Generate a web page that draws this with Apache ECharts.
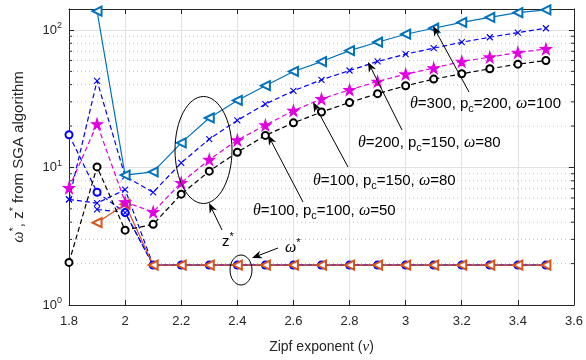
<!DOCTYPE html>
<html><head><meta charset="utf-8">
<script src="https://cdn.jsdelivr.net/npm/echarts@6/dist/echarts.min.js"></script>
<style>html,body{margin:0;padding:0;background:#fff}#c{width:586px;height:360px}</style>
</head><body><div id="c"></div>
<script>
// ---- data ----
const nu = [1.8,1.9,2.0,2.1,2.2,2.3,2.4,2.5,2.6,2.7,2.8,2.9,3.0,3.1,3.2,3.3,3.4,3.5];
const zStar300 = [null,137,8.8,9.3,15.1,22.9,30.7,39.3,49.9,58.9,70.8,81.4,93.1,102.9,113.6,123.6,133.5,140];
const zStar200 = [5.86,42.7,8.6,6.6,10.8,16.1,22.0,28.9,36.1,43.4,50.7,59.0,66.7,73.7,81.4,88.5,95.6,102.9];
const zStar150 = [7.1,20.7,5.6,4.75,7.75,11.4,15.8,20.3,25.9,31.5,36.7,42.2,47.7,52.8,59.0,63.4,68.5,72.8];
const zStar100 = [2.04,10.1,3.5,3.86,6.4,9.4,12.9,17.1,21.1,25.3,29.7,34.4,39.3,43.9,48.0,52.2,56.4,59.9];
const omega300 = [null,3.97,5.4,1.95,1.95,1.95,1.95,1.95,1.95,1.95,1.95,1.95,1.95,1.95,1.95,1.95,1.95,1.95];
const omega200 = [5.86,5.5,6.9,1.95,1.95,1.95,1.95,1.95,1.95,1.95,1.95,1.95,1.95,1.95,1.95,1.95,1.95,1.95];
const omega150 = [null,4.95,4.7,1.95,1.95,1.95,1.95,1.95,1.95,1.95,1.95,1.95,1.95,1.95,1.95,1.95,1.95,1.95];
const omega100 = [17.3,6.6,4.7,1.95,1.95,1.95,1.95,1.95,1.95,1.95,1.95,1.95,1.95,1.95,1.95,1.95,1.95,1.95];
const xTicks = [1.8,2.0,2.2,2.4,2.6,2.8,3.0,3.2,3.4,3.6];
const yMinorTicks = [2,3,4,5,6,7,8,9,20,30,40,50,60,70,80,90];

// ---- chart ----
const C_LB = '#0072BD', C_B = '#0000FF', C_M = '#E000E0', C_K = '#000000', C_O = '#D95319';
const FONT = '"Liberation Sans", Arial, sans-serif';
const crossPath = 'path://M0,0L10,10M0,10L10,0';
const starPath = 'path://M50,0L61,35L98,35L68,57L79,91L50,70L21,91L32,57L2,35L39,35Z';
const pairs = arr => nu.map((x, i) => [x, arr[i]]);

function lineSeries(name, arr, color, dashed, symbol, size, opts) {
  const s = {
    name, type: 'line', data: pairs(arr), connectNulls: false,
    symbol, symbolSize: size, showAllSymbol: true,
    lineStyle: { color, width: 1.2, type: dashed ? [5, 3] : 'solid' },
    itemStyle: { color, borderColor: color, borderWidth: 1.1 },
    z: 5, animation: false
  };
  return Object.assign(s, opts || {});
}

const chart = echarts.init(document.getElementById('c'));
const series = [
  {
    type: 'custom', coordinateSystem: 'cartesian2d', data: [[1.8, 1]], z: 1, silent: true, clip: false,
    renderItem: function (params, api) {
      const children = [];
      yMinorTicks.forEach(v => {
        const a = api.coord([1.8, v]), b = api.coord([3.6, v]);
        children.push({ type: 'line', shape: { x1: a[0], y1: a[1], x2: b[0], y2: b[1] },
          style: { stroke: '#c4c4c4', lineWidth: 1, lineDash: [1, 3] } });
        children.push({ type: 'line', shape: { x1: a[0], y1: a[1], x2: a[0] + 3, y2: a[1] },
          style: { stroke: '#262626', lineWidth: 1 } });
        children.push({ type: 'line', shape: { x1: b[0], y1: b[1], x2: b[0] - 3, y2: b[1] },
          style: { stroke: '#262626', lineWidth: 1 } });
      });
      return { type: 'group', children };
    }
  },
  lineSeries('omega100', omega100, C_B, true, 'emptyCircle', 7),
  lineSeries('omega150', omega150, C_B, true, crossPath, 6),
  lineSeries('omega200', omega200, C_B, true, crossPath, 6),
  lineSeries('omega300', omega300, C_O, false, 'emptyTriangle', 9, { symbolRotate: 90 }),
  lineSeries('z100', zStar100, C_K, true, 'emptyCircle', 7),
  lineSeries('z150', zStar150, C_M, true, starPath, 11),
  lineSeries('z200', zStar200, C_B, true, crossPath, 6),
  lineSeries('z300', zStar300, C_LB, false, 'emptyTriangle', 9, { symbolRotate: 90 })
];

const axisLbl = { color: '#262626', fontFamily: FONT, fontSize: 13 };
const supRich = {
  b: { fontFamily: FONT, fontSize: 13, color: '#262626' },
  s: { fontFamily: FONT, fontSize: 9, color: '#262626', verticalAlign: 'top', padding: [0, 0, 8, 0] }
};

function labelRich() {
  return {
    t: { fontFamily: FONT, fontSize: 15, color: '#000' },
    g: { fontFamily: '"Liberation Serif", serif', fontStyle: 'italic', fontSize: 16, color: '#000' },
    sub: { fontFamily: FONT, fontSize: 11, color: '#000', padding: [10, 0, 0, 0] },
    sup: { fontFamily: FONT, fontSize: 11, color: '#000', padding: [0, 0, 10, 0] }
  };
}
function arrow(x1, y1, x2, y2) {
  const dx = x2 - x1, dy = y2 - y1, L = Math.hypot(dx, dy);
  const ux = dx / L, uy = dy / L, px = -uy, py = ux;
  const hl = 10, hw = 4, nb = 7;
  const bx = x2 - ux * hl, by = y2 - uy * hl;
  const nx = x2 - ux * nb, ny = y2 - uy * nb;
  return [
    { type: 'line', z: 10, shape: { x1, y1, x2: nx, y2: ny }, style: { stroke: '#000', lineWidth: 1 } },
    { type: 'polygon', z: 10, shape: { points: [[x2, y2], [bx + px * hw, by + py * hw], [nx, ny], [bx - px * hw, by - py * hw]] },
      style: { fill: '#000' } }
  ];
}
function label(x, y, txt) {
  return { type: 'text', x, y, z: 10, style: { text: txt, rich: labelRich(), verticalAlign: 'middle', align: 'left',
    fontFamily: FONT, fontSize: 15 } };
}

const graphics = [
  { type: 'ellipse', z: 10, shape: { cx: 203.5, cy: 150, rx: 28.5, ry: 53.5 }, style: { fill: 'none', stroke: '#000', lineWidth: 1 } },
  { type: 'ellipse', z: 10, shape: { cx: 241, cy: 270, rx: 11, ry: 15 }, style: { fill: 'none', stroke: '#000', lineWidth: 1 } },
  ...arrow(222, 230, 209, 203),
  ...arrow(278, 248, 252, 258),
  ...arrow(303, 202, 268, 135),
  ...arrow(348, 167, 313, 102),
  ...arrow(402, 130, 368, 62),
  ...arrow(469, 92, 433, 26),
  label(410, 104, '{g|θ}{t|=300, p}{sub|c}{t|=200, }{g|ω}{t|=100}'),
  label(358, 143, '{g|θ}{t|=200, p}{sub|c}{t|=150, }{g|ω}{t|=80}'),
  label(313, 181, '{g|θ}{t|=100, p}{sub|c}{t|=150, }{g|ω}{t|=80}'),
  label(253, 211, '{g|θ}{t|=100, p}{sub|c}{t|=100, }{g|ω}{t|=50}'),
  label(222, 242, '{t|z}{sup|*}'),
  label(285, 248, '{g|ω}{sup|*}')
];

const option = {
  backgroundColor: '#fff',
  animation: false,
  grid: { left: 64, right: 12, top: 9, bottom: 54, containLabel: false },
  xAxis: [
    {
      type: 'value', min: 1.8, max: 3.6, interval: 0.2, position: 'bottom',
      name: '{t|Zipf exponent (}{i|ν}{t|)}', nameLocation: 'middle', nameGap: 35,
      nameTextStyle: { rich: {
        t: { fontFamily: FONT, fontSize: 14, color: '#262626' },
        i: { fontFamily: '"Liberation Serif", serif', fontStyle: 'italic', fontSize: 15, color: '#262626' } } },
      axisLine: { show: true, onZero: false, lineStyle: { color: '#262626', width: 1 } },
      axisTick: { show: true, inside: true, length: 5, lineStyle: { color: '#262626' } },
      axisLabel: Object.assign({ margin: 10, formatter: v => String(+v.toFixed(1)) }, axisLbl),
      splitLine: { show: true, lineStyle: { color: '#e2e2e2', width: 1 } }
    },
    {
      type: 'value', min: 1.8, max: 3.6, interval: 0.2, position: 'top',
      axisLine: { show: true, onZero: false, lineStyle: { color: '#262626', width: 1 } },
      axisTick: { show: true, inside: true, length: 5, lineStyle: { color: '#262626' } },
      axisLabel: { show: false }, splitLine: { show: false }
    }
  ],
  yAxis: [
    {
      type: 'log', logBase: 10, min: 1, max: 142, position: 'left',
      name: '{g|ω}{s|*}{t|, z}{s|*}{t| from SGA algorithm}', nameLocation: 'middle', nameGap: 40, nameRotate: 90,
      nameTextStyle: { rich: {
        t: { fontFamily: FONT, fontSize: 15, color: '#262626' },
        g: { fontFamily: '"Liberation Serif", serif', fontStyle: 'italic', fontSize: 16, color: '#262626' },
        s: { fontFamily: FONT, fontSize: 11, color: '#262626', padding: [0, 0, 10, 0] } } },
      axisLine: { show: true, onZero: false, lineStyle: { color: '#262626', width: 1 } },
      axisTick: { show: true, inside: true, length: 5, lineStyle: { color: '#262626' } },
      axisLabel: {
        margin: 7, showMaxLabel: false,
        formatter: v => {
          const e = Math.log10(v);
          if (Math.abs(e - Math.round(e)) > 1e-6) return '';
          return '{b|10}{s|' + Math.round(e) + '}';
        },
        rich: supRich
      },
      splitLine: { show: true, lineStyle: { color: '#e2e2e2', width: 1 } }
    },
    {
      type: 'log', logBase: 10, min: 1, max: 142, position: 'right',
      axisLine: { show: true, onZero: false, lineStyle: { color: '#262626', width: 1 } },
      axisTick: { show: true, inside: true, length: 5, lineStyle: { color: '#262626' } },
      axisLabel: { show: false }, splitLine: { show: false }
    }
  ],
  series,
  graphic: graphics
};
chart.setOption(option);
</script>
</body></html>
